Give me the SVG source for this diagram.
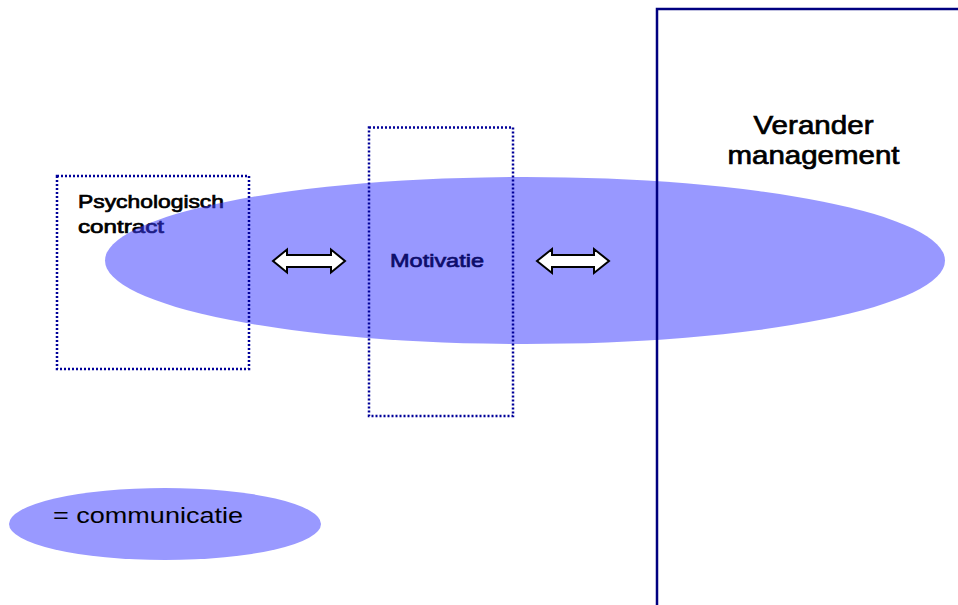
<svg xmlns="http://www.w3.org/2000/svg" width="958" height="605" viewBox="0 0 958 605">
  <style>
    .lbl { font-family: "Liberation Sans", Arial, sans-serif; font-weight: normal; fill: #000000; stroke: #000000; stroke-width: 0.7; }
    .dotbox { fill: none; stroke: #000099; stroke-width: 2.5; stroke-dasharray: 2 2; }
    .arrow { fill: #ffffff; stroke: #000000; stroke-width: 2; stroke-linejoin: miter; }
    .comm { fill: #3a3aff; fill-opacity: 0.52; }
    .frame { fill: none; stroke: #000080; stroke-width: 2.5; }
  </style>
  <rect x="0" y="0" width="958" height="605" fill="#ffffff"/>

  <g id="psychologisch-contract-text">
    <text class="lbl" x="78" y="208" font-size="19" textLength="146" lengthAdjust="spacingAndGlyphs">Psychologisch</text>
    <text class="lbl" x="78" y="233" font-size="19" textLength="86" lengthAdjust="spacingAndGlyphs">contract</text>
  </g>

  <g id="communicatie-ellipse">
    <ellipse class="comm" cx="525" cy="260.5" rx="420" ry="83.5"/>
  </g>

  <g id="psychologisch-contract">
    <rect class="dotbox" x="57" y="176" width="192" height="193"/>
  </g>

  <g id="motivatie">
    <rect class="dotbox" x="369" y="127.5" width="144" height="288.5"/>
    <text x="390" y="267" font-family="Liberation Sans, Arial, sans-serif" font-size="19" fill="#0d0d6b" stroke="#0d0d6b" stroke-width="0.7" textLength="94" lengthAdjust="spacingAndGlyphs">Motivatie</text>
  </g>

  <g id="verander-management">
    <path class="frame" d="M657,605 L657,9 L958,9"/>
    <text class="lbl" x="813.5" y="134" font-size="26" text-anchor="middle" textLength="120" lengthAdjust="spacingAndGlyphs">Verander</text>
    <text class="lbl" x="813.5" y="164" font-size="26" text-anchor="middle" textLength="172" lengthAdjust="spacingAndGlyphs">management</text>
  </g>

  <g id="connectors">
    <path class="arrow" d="M273,261 L287,249.5 L287,255 L331,255 L331,249.5 L345,261 L331,272.5 L331,267 L287,267 L287,272.5 Z"/>
    <path class="arrow" d="M537,261 L552,249 L552,255 L594,255 L594,249 L609,261 L594,273 L594,267 L552,267 L552,273 Z"/>
  </g>

  <g id="legend">
    <ellipse cx="165" cy="524" rx="156" ry="36" fill="#9999ff"/>
    <text x="53" y="523" font-family="Liberation Sans, Arial, sans-serif" font-size="22" fill="#000000" textLength="190" lengthAdjust="spacingAndGlyphs">= communicatie</text>
  </g>
</svg>
